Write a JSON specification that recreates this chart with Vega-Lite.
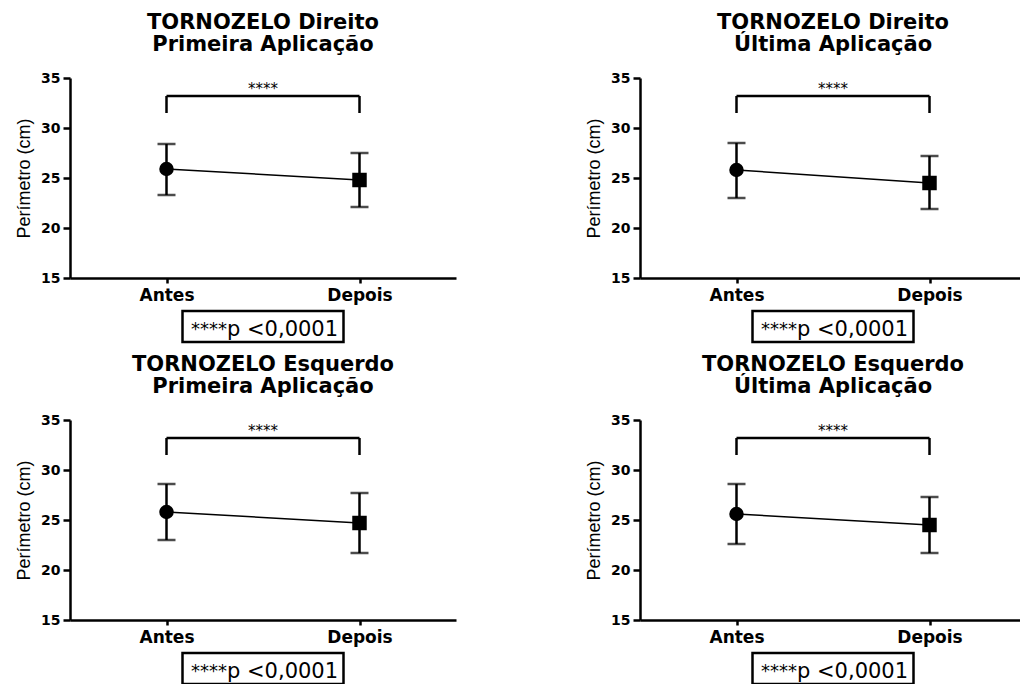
{
  "$schema": "https://vega.github.io/schema/vega-lite/v6.json",
  "padding": {"left": 15, "top": 12, "right": 0, "bottom": 0},
  "background": "white",
  "data": {
    "values": [
      {"panel": "DP", "time": "Antes", "mean": 25.9, "lo": 23.3, "hi": 28.4},
      {"panel": "DP", "time": "Depois", "mean": 24.8, "lo": 22.1, "hi": 27.5},
      {"panel": "DU", "time": "Antes", "mean": 25.8, "lo": 23.0, "hi": 28.5},
      {"panel": "DU", "time": "Depois", "mean": 24.5, "lo": 21.9, "hi": 27.2},
      {"panel": "EP", "time": "Antes", "mean": 25.8, "lo": 23.0, "hi": 28.6},
      {"panel": "EP", "time": "Depois", "mean": 24.7, "lo": 21.7, "hi": 27.7},
      {"panel": "EU", "time": "Antes", "mean": 25.6, "lo": 22.6, "hi": 28.6},
      {"panel": "EU", "time": "Depois", "mean": 24.5, "lo": 21.7, "hi": 27.3}
    ]
  },
  "spacing": 129,
  "hconcat": [
    {
      "spacing": 10,
      "vconcat": [
        {
          "bounds": "flush",
          "spacing": 33,
          "center": true,
          "vconcat": [
            {
              "title": {"text": ["TORNOZELO Direito", "Primeira Aplicação"]},
              "width": 386,
              "height": 200,
              "transform": [{"filter": "datum.panel == 'DP'"}],
              "encoding": {"x": {"field": "time", "type": "nominal", "scale": {"type": "point", "domain": ["Antes", "Depois"], "padding": 0.5}, "axis": {"title": null, "labelAngle": 0}}},
              "layer": [
                {"mark": {"type": "line", "color": "black", "strokeWidth": 1.5}, "encoding": {"y": {"field": "mean", "type": "quantitative", "title": "Perímetro (cm)", "scale": {"domain": [15, 35], "nice": false, "zero": false}, "axis": {"values": [15, 20, 25, 30, 35]}}}},
                {"mark": {"type": "errorbar", "ticks": {"size": 18}, "thickness": 2.5, "color": "black"}, "encoding": {"y": {"field": "lo", "type": "quantitative", "title": "Perímetro (cm)"}, "y2": {"field": "hi"}}},
                {"mark": {"type": "point", "filled": true, "opacity": 1, "color": "black", "size": 210}, "encoding": {"y": {"field": "mean", "type": "quantitative", "title": "Perímetro (cm)"}, "shape": {"field": "time", "type": "nominal", "scale": {"domain": ["Antes", "Depois"], "range": ["circle", "square"]}, "legend": null}}},
                {"transform": [{"filter": "datum.time == 'Antes'"}], "mark": {"type": "rule", "color": "black", "strokeWidth": 2.5}, "encoding": {"x": {"datum": "Antes"}, "x2": {"datum": "Depois"}, "y": {"datum": 33.2}}},
                {"transform": [{"filter": "datum.time == 'Antes'"}], "mark": {"type": "rule", "color": "black", "strokeWidth": 2.5}, "encoding": {"x": {"datum": "Antes"}, "y": {"datum": 33.2}, "y2": {"datum": 31.5}}},
                {"transform": [{"filter": "datum.time == 'Antes'"}], "mark": {"type": "rule", "color": "black", "strokeWidth": 2.5}, "encoding": {"x": {"datum": "Depois"}, "y": {"datum": 33.2}, "y2": {"datum": 31.5}}},
                {"transform": [{"filter": "datum.time == 'Antes'"}], "mark": {"type": "text", "text": "****", "font": "DejaVu Sans", "fontSize": 15, "dx": 96.5, "baseline": "alphabetic", "color": "black"}, "encoding": {"x": {"datum": "Antes"}, "y": {"datum": 33.45}}}
              ]
            },
            {
              "width": 161,
              "height": 31,
              "view": {"stroke": "black", "strokeWidth": 2.5},
              "data": {"values": [{"stars": "****", "label": "p <0,0001"}]},
              "layer": [
                {"mark": {"type": "text", "font": "DejaVu Sans", "fontSize": 18, "align": "right", "dx": -36, "dy": 8, "baseline": "alphabetic", "color": "black"}, "encoding": {"text": {"field": "stars", "type": "nominal"}}},
                {"mark": {"type": "text", "font": "DejaVu Sans", "fontSize": 21, "align": "left", "dx": -36, "dy": 9, "baseline": "alphabetic", "color": "black"}, "encoding": {"text": {"field": "label", "type": "nominal"}}}
              ]
            }
          ]
        },
        {
          "bounds": "flush",
          "spacing": 33,
          "center": true,
          "vconcat": [
            {
              "title": {"text": ["TORNOZELO Esquerdo", "Primeira Aplicação"]},
              "width": 386,
              "height": 200,
              "transform": [{"filter": "datum.panel == 'EP'"}],
              "encoding": {"x": {"field": "time", "type": "nominal", "scale": {"type": "point", "domain": ["Antes", "Depois"], "padding": 0.5}, "axis": {"title": null, "labelAngle": 0}}},
              "layer": [
                {"mark": {"type": "line", "color": "black", "strokeWidth": 1.5}, "encoding": {"y": {"field": "mean", "type": "quantitative", "title": "Perímetro (cm)", "scale": {"domain": [15, 35], "nice": false, "zero": false}, "axis": {"values": [15, 20, 25, 30, 35]}}}},
                {"mark": {"type": "errorbar", "ticks": {"size": 18}, "thickness": 2.5, "color": "black"}, "encoding": {"y": {"field": "lo", "type": "quantitative", "title": "Perímetro (cm)"}, "y2": {"field": "hi"}}},
                {"mark": {"type": "point", "filled": true, "opacity": 1, "color": "black", "size": 210}, "encoding": {"y": {"field": "mean", "type": "quantitative", "title": "Perímetro (cm)"}, "shape": {"field": "time", "type": "nominal", "scale": {"domain": ["Antes", "Depois"], "range": ["circle", "square"]}, "legend": null}}},
                {"transform": [{"filter": "datum.time == 'Antes'"}], "mark": {"type": "rule", "color": "black", "strokeWidth": 2.5}, "encoding": {"x": {"datum": "Antes"}, "x2": {"datum": "Depois"}, "y": {"datum": 33.2}}},
                {"transform": [{"filter": "datum.time == 'Antes'"}], "mark": {"type": "rule", "color": "black", "strokeWidth": 2.5}, "encoding": {"x": {"datum": "Antes"}, "y": {"datum": 33.2}, "y2": {"datum": 31.5}}},
                {"transform": [{"filter": "datum.time == 'Antes'"}], "mark": {"type": "rule", "color": "black", "strokeWidth": 2.5}, "encoding": {"x": {"datum": "Depois"}, "y": {"datum": 33.2}, "y2": {"datum": 31.5}}},
                {"transform": [{"filter": "datum.time == 'Antes'"}], "mark": {"type": "text", "text": "****", "font": "DejaVu Sans", "fontSize": 15, "dx": 96.5, "baseline": "alphabetic", "color": "black"}, "encoding": {"x": {"datum": "Antes"}, "y": {"datum": 33.45}}}
              ]
            },
            {
              "width": 161,
              "height": 31,
              "view": {"stroke": "black", "strokeWidth": 2.5},
              "data": {"values": [{"stars": "****", "label": "p <0,0001"}]},
              "layer": [
                {"mark": {"type": "text", "font": "DejaVu Sans", "fontSize": 18, "align": "right", "dx": -36, "dy": 8, "baseline": "alphabetic", "color": "black"}, "encoding": {"text": {"field": "stars", "type": "nominal"}}},
                {"mark": {"type": "text", "font": "DejaVu Sans", "fontSize": 21, "align": "left", "dx": -36, "dy": 9, "baseline": "alphabetic", "color": "black"}, "encoding": {"text": {"field": "label", "type": "nominal"}}}
              ]
            }
          ]
        }
      ]
    },
    {
      "spacing": 10,
      "vconcat": [
        {
          "bounds": "flush",
          "spacing": 33,
          "center": true,
          "vconcat": [
            {
              "title": {"text": ["TORNOZELO Direito", "Última Aplicação"]},
              "width": 386,
              "height": 200,
              "transform": [{"filter": "datum.panel == 'DU'"}],
              "encoding": {"x": {"field": "time", "type": "nominal", "scale": {"type": "point", "domain": ["Antes", "Depois"], "padding": 0.5}, "axis": {"title": null, "labelAngle": 0}}},
              "layer": [
                {"mark": {"type": "line", "color": "black", "strokeWidth": 1.5}, "encoding": {"y": {"field": "mean", "type": "quantitative", "title": "Perímetro (cm)", "scale": {"domain": [15, 35], "nice": false, "zero": false}, "axis": {"values": [15, 20, 25, 30, 35]}}}},
                {"mark": {"type": "errorbar", "ticks": {"size": 18}, "thickness": 2.5, "color": "black"}, "encoding": {"y": {"field": "lo", "type": "quantitative", "title": "Perímetro (cm)"}, "y2": {"field": "hi"}}},
                {"mark": {"type": "point", "filled": true, "opacity": 1, "color": "black", "size": 210}, "encoding": {"y": {"field": "mean", "type": "quantitative", "title": "Perímetro (cm)"}, "shape": {"field": "time", "type": "nominal", "scale": {"domain": ["Antes", "Depois"], "range": ["circle", "square"]}, "legend": null}}},
                {"transform": [{"filter": "datum.time == 'Antes'"}], "mark": {"type": "rule", "color": "black", "strokeWidth": 2.5}, "encoding": {"x": {"datum": "Antes"}, "x2": {"datum": "Depois"}, "y": {"datum": 33.2}}},
                {"transform": [{"filter": "datum.time == 'Antes'"}], "mark": {"type": "rule", "color": "black", "strokeWidth": 2.5}, "encoding": {"x": {"datum": "Antes"}, "y": {"datum": 33.2}, "y2": {"datum": 31.5}}},
                {"transform": [{"filter": "datum.time == 'Antes'"}], "mark": {"type": "rule", "color": "black", "strokeWidth": 2.5}, "encoding": {"x": {"datum": "Depois"}, "y": {"datum": 33.2}, "y2": {"datum": 31.5}}},
                {"transform": [{"filter": "datum.time == 'Antes'"}], "mark": {"type": "text", "text": "****", "font": "DejaVu Sans", "fontSize": 15, "dx": 96.5, "baseline": "alphabetic", "color": "black"}, "encoding": {"x": {"datum": "Antes"}, "y": {"datum": 33.45}}}
              ]
            },
            {
              "width": 161,
              "height": 31,
              "view": {"stroke": "black", "strokeWidth": 2.5},
              "data": {"values": [{"stars": "****", "label": "p <0,0001"}]},
              "layer": [
                {"mark": {"type": "text", "font": "DejaVu Sans", "fontSize": 18, "align": "right", "dx": -36, "dy": 8, "baseline": "alphabetic", "color": "black"}, "encoding": {"text": {"field": "stars", "type": "nominal"}}},
                {"mark": {"type": "text", "font": "DejaVu Sans", "fontSize": 21, "align": "left", "dx": -36, "dy": 9, "baseline": "alphabetic", "color": "black"}, "encoding": {"text": {"field": "label", "type": "nominal"}}}
              ]
            }
          ]
        },
        {
          "bounds": "flush",
          "spacing": 33,
          "center": true,
          "vconcat": [
            {
              "title": {"text": ["TORNOZELO Esquerdo", "Última Aplicação"]},
              "width": 386,
              "height": 200,
              "transform": [{"filter": "datum.panel == 'EU'"}],
              "encoding": {"x": {"field": "time", "type": "nominal", "scale": {"type": "point", "domain": ["Antes", "Depois"], "padding": 0.5}, "axis": {"title": null, "labelAngle": 0}}},
              "layer": [
                {"mark": {"type": "line", "color": "black", "strokeWidth": 1.5}, "encoding": {"y": {"field": "mean", "type": "quantitative", "title": "Perímetro (cm)", "scale": {"domain": [15, 35], "nice": false, "zero": false}, "axis": {"values": [15, 20, 25, 30, 35]}}}},
                {"mark": {"type": "errorbar", "ticks": {"size": 18}, "thickness": 2.5, "color": "black"}, "encoding": {"y": {"field": "lo", "type": "quantitative", "title": "Perímetro (cm)"}, "y2": {"field": "hi"}}},
                {"mark": {"type": "point", "filled": true, "opacity": 1, "color": "black", "size": 210}, "encoding": {"y": {"field": "mean", "type": "quantitative", "title": "Perímetro (cm)"}, "shape": {"field": "time", "type": "nominal", "scale": {"domain": ["Antes", "Depois"], "range": ["circle", "square"]}, "legend": null}}},
                {"transform": [{"filter": "datum.time == 'Antes'"}], "mark": {"type": "rule", "color": "black", "strokeWidth": 2.5}, "encoding": {"x": {"datum": "Antes"}, "x2": {"datum": "Depois"}, "y": {"datum": 33.2}}},
                {"transform": [{"filter": "datum.time == 'Antes'"}], "mark": {"type": "rule", "color": "black", "strokeWidth": 2.5}, "encoding": {"x": {"datum": "Antes"}, "y": {"datum": 33.2}, "y2": {"datum": 31.5}}},
                {"transform": [{"filter": "datum.time == 'Antes'"}], "mark": {"type": "rule", "color": "black", "strokeWidth": 2.5}, "encoding": {"x": {"datum": "Depois"}, "y": {"datum": 33.2}, "y2": {"datum": 31.5}}},
                {"transform": [{"filter": "datum.time == 'Antes'"}], "mark": {"type": "text", "text": "****", "font": "DejaVu Sans", "fontSize": 15, "dx": 96.5, "baseline": "alphabetic", "color": "black"}, "encoding": {"x": {"datum": "Antes"}, "y": {"datum": 33.45}}}
              ]
            },
            {
              "width": 161,
              "height": 31,
              "view": {"stroke": "black", "strokeWidth": 2.5},
              "data": {"values": [{"stars": "****", "label": "p <0,0001"}]},
              "layer": [
                {"mark": {"type": "text", "font": "DejaVu Sans", "fontSize": 18, "align": "right", "dx": -36, "dy": 8, "baseline": "alphabetic", "color": "black"}, "encoding": {"text": {"field": "stars", "type": "nominal"}}},
                {"mark": {"type": "text", "font": "DejaVu Sans", "fontSize": 21, "align": "left", "dx": -36, "dy": 9, "baseline": "alphabetic", "color": "black"}, "encoding": {"text": {"field": "label", "type": "nominal"}}}
              ]
            }
          ]
        }
      ]
    }
  ],
  "config": {
    "view": {"stroke": null},
    "title": {"font": "DejaVu Sans", "fontSize": 21, "fontWeight": "bold", "lineHeight": 22, "color": "black", "anchor": "middle", "frame": "group", "offset": 16},
    "axis": {"domainColor": "black", "domainWidth": 2.5, "tickColor": "black", "tickWidth": 2.5, "labelColor": "black", "titleColor": "black", "grid": false},
    "axisY": {"labelFont": "DejaVu Sans", "labelFontSize": 14, "labelFontWeight": "bold", "tickSize": 7, "labelPadding": 3, "titleFont": "Liberation Sans", "titleFontSize": 18, "titleFontWeight": "normal", "titlePadding": 7},
    "axisX": {"labelFont": "DejaVu Sans", "labelFontSize": 17, "labelFontWeight": "bold", "tickSize": 5, "labelPadding": 4}
  }
}
